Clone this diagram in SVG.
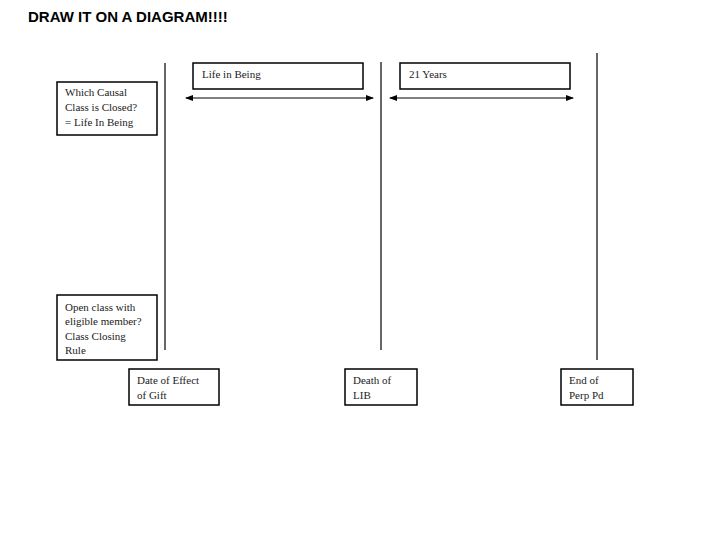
<svg xmlns="http://www.w3.org/2000/svg" width="720" height="540" viewBox="0 0 720 540">
<style>
.b{fill:#fff;stroke:#000;stroke-width:1.5}
.t{font-family:"Liberation Serif",serif;font-size:11px;fill:#222}
.l{stroke:#000;stroke-width:1.2;fill:none}
</style>
<defs><marker id="a" markerWidth="8" markerHeight="6" refX="7" refY="3" orient="auto-start-reverse" markerUnits="userSpaceOnUse"><path d="M0,0L8,3L0,6z"/></marker></defs>
<rect width="720" height="540" fill="#fff"/>
<text x="28" y="22" font-family="Liberation Sans,sans-serif" font-weight="bold" font-size="15">DRAW IT ON A DIAGRAM!!!!</text>
<g id="connectors">
<line class="l" x1="165" y1="63" x2="165" y2="350"/>
<line class="l" x1="381" y1="62" x2="381" y2="350"/>
<line class="l" x1="597" y1="53" x2="597" y2="360"/>
<line class="l" x1="186" y1="98" x2="373" y2="98" marker-start="url(#a)" marker-end="url(#a)"/>
<line class="l" x1="390" y1="98" x2="573" y2="98" marker-start="url(#a)" marker-end="url(#a)"/>
</g>
<g id="lib"><rect class="b" x="193" y="63" width="170" height="26"/><text class="t" x="202" y="78">Life in Being</text></g>
<g id="y21"><rect class="b" x="400" y="63" width="170" height="26"/><text class="t" x="409" y="78">21 Years</text></g>
<g id="which"><rect class="b" x="57" y="82" width="100" height="53"/><text class="t" x="65" y="96">Which Causal</text><text class="t" x="65" y="111">Class is Closed?</text><text class="t" x="65" y="126">= Life In Being</text></g>
<g id="open"><rect class="b" x="57" y="295" width="100" height="65"/><text class="t" x="65" y="311">Open class with</text><text class="t" x="65" y="325">eligible member?</text><text class="t" x="65" y="340">Class Closing</text><text class="t" x="65" y="354">Rule</text></g>
<g id="date"><rect class="b" x="129" y="369" width="90" height="36"/><text class="t" x="137" y="384">Date of Effect</text><text class="t" x="137" y="399">of Gift</text></g>
<g id="death"><rect class="b" x="345" y="369" width="72" height="36"/><text class="t" x="353" y="384">Death of</text><text class="t" x="353" y="399">LIB</text></g>
<g id="end"><rect class="b" x="561" y="369" width="72" height="36"/><text class="t" x="569" y="384">End of</text><text class="t" x="569" y="399">Perp Pd</text></g>
</svg>
